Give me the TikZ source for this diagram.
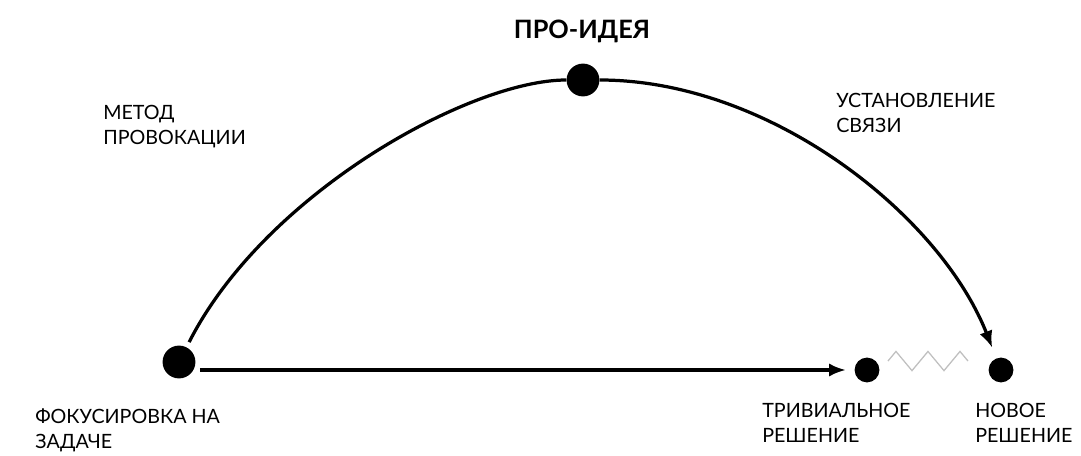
\documentclass[tikz,border=0pt]{standalone}
\usepackage{fontspec}
\setmainfont{Lato}
\usetikzlibrary{arrows.meta, decorations.pathmorphing}

\begin{document}
\begin{tikzpicture}[
    x=0.025cm, y=0.025cm,
    font=\fontsize{14}{18}\selectfont,
    dot/.style={circle, fill=black, inner sep=0pt, minimum size=0.82cm},
    smalldot/.style={dot, minimum size=0.62cm},
    lbl/.style={anchor=north west, align=left, inner sep=0pt},
    arr/.style={-{Latex[length=12pt,width=9.5pt]}, line width=2.3pt},
    zig/.style={draw=black!25, line width=0.9pt,
      decorate, decoration={zigzag, segment length=0.8cm, amplitude=0.24cm,
        pre=moveto, pre length=0.3cm, post=moveto, post length=0.3cm}}
  ]
  \useasboundingbox (0,0) rectangle (1081,455);
  % points
  \node[dot]      (focus) at (179,93)  {};
  \node[dot]      (pro)   at (583,375) {};
  \node[smalldot] (triv)  at (867,85)  {};
  \node[smalldot] (new)   at (1001,85) {};
  % labels
  \node[font=\fontsize{18}{20}\selectfont\bfseries] (title) at (582,424) {ПРО-ИДЕЯ};
  \node[lbl] (method) at (103,350) {МЕТОД\\ПРОВОКАЦИИ};
  \node[lbl] (link)   at (836,362) {УСТАНОВЛЕНИЕ\\СВЯЗИ};
  \node[lbl] (task)   at (35,47)   {ФОКУСИРОВКА НА\\ЗАДАЧЕ};
  \node[lbl] (trivl)  at (762,52)  {ТРИВИАЛЬНОЕ\\РЕШЕНИЕ};
  \node[lbl] (newl)   at (975,52)  {НОВОЕ\\РЕШЕНИЕ};
  % connectors
  \draw[arr, shorten <=3pt, shorten >=6pt] (focus.east |- triv) -- (triv);
  \draw[line width=2.3pt, shorten <=4pt] (focus) .. controls (265,262) and (470,375) .. (pro);
  \draw[arr, shorten >=8pt] (pro) .. controls (770,375) and (940,240) .. (new);
  \draw[zig] (triv.north east) -- (new.north west);
\end{tikzpicture}
\end{document}
